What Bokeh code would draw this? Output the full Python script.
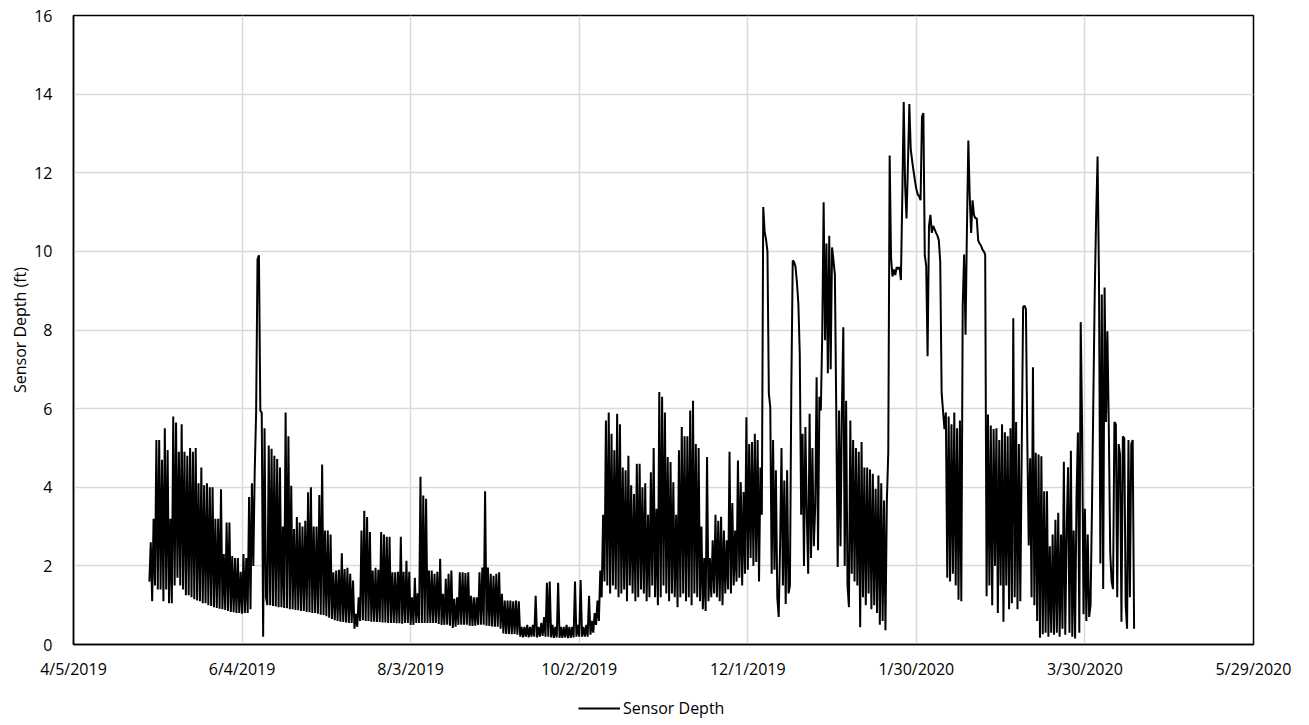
import pandas as pd
from bokeh.plotting import figure
from bokeh.layouts import column
from bokeh.models import Range1d, FixedTicker, Legend, LegendItem, ColumnDataSource
from bokeh.embed import file_html
from bokeh.resources import INLINE

# ---- axis data ----
x_tick_dates = ["2019-04-05", "2019-06-04", "2019-08-03", "2019-10-02",
                "2019-12-01", "2020-01-30", "2020-03-30", "2020-05-29"]
x_tick_labels = ["4/5/2019", "6/4/2019", "8/3/2019", "10/2/2019",
                 "12/1/2019", "1/30/2020", "3/30/2020", "5/29/2020"]
y_ticks = [0, 2, 4, 6, 8, 10, 12, 14, 16]
series_name = "Sensor Depth"

# ---- sensor depth (ft), readings every 12 hours, one list per month ----
may_2019 = [1.6, 2.6, 1.1, 3.2, 1.5, 5.2, 1.4, 5.2, 1.4, 4.7, 1.1, 5.5, 1.4, 4.95, 1.05, 3.2, 1.05, 5.8, 1.5, 5.65,
            1.7, 4.9, 1.5, 5.6, 1.4, 4.9, 1.25, 4.8, 1.25, 5.0, 1.2, 4.9, 1.15, 5.0, 1.12, 4.1, 1.1, 4.5, 1.05, 4.05,
            1.05, 4.1, 1.0, 4.0, 0.98, 4.0, 0.95, 3.2, 0.93, 3.2, 0.91, 3.95, 0.9, 2.3, 0.88, 3.1, 0.85, 3.1, 0.83, 2.25]
jun_2019 = [0.82, 2.2, 0.8, 2.2, 0.8, 1.85, 0.78, 2.3, 0.8, 2.2, 0.8, 3.75, 0.9, 4.1, 2.0, 4.4, 5.9, 9.8, 9.9, 5.95,
            5.9, 0.2, 5.5, 1.2, 1.0, 5.06, 1.0, 4.98, 0.98, 4.8, 0.97, 4.72, 0.95, 4.5, 0.95, 3.0, 0.93, 5.9, 0.92, 5.3,
            0.9, 4.04, 0.9, 2.94, 0.88, 3.24, 0.87, 3.1, 0.85, 3.0, 0.85, 3.15, 0.83, 3.87, 0.82, 4.0, 0.8, 3.0, 0.8, 3.0]
jul_2019 = [0.78, 3.8, 0.76, 4.58, 0.75, 2.9, 0.72, 2.9, 0.68, 2.8, 0.65, 1.84, 0.62, 1.88, 0.6, 1.9, 0.58, 2.32, 0.57, 1.92,
            0.56, 1.95, 0.55, 1.8, 0.55, 1.63, 0.4, 0.78, 0.45, 1.2, 0.6, 2.9, 0.62, 3.4, 0.6, 3.24, 0.6, 2.86, 0.58, 1.88,
            0.58, 1.95, 0.57, 1.9, 0.57, 2.86, 0.56, 2.8, 0.56, 2.74, 0.55, 2.74, 0.55, 1.84, 0.55, 1.84, 0.54, 1.85, 0.54, 2.74,
            0.53, 1.85]
aug_2019 = [0.55, 2.13, 0.55, 1.85, 0.5, 1.2, 0.5, 1.7, 0.55, 1.3, 0.55, 4.27, 0.55, 3.79, 0.55, 3.71, 0.55, 1.88, 0.55, 1.88,
            0.55, 1.8, 0.55, 1.85, 0.52, 2.18, 0.5, 1.29, 0.5, 1.67, 0.5, 1.8, 0.48, 1.88, 0.42, 1.16, 0.45, 1.2, 0.5, 1.84,
            0.5, 1.84, 0.5, 1.82, 0.5, 1.84, 0.48, 1.24, 0.47, 1.2, 0.48, 1.2, 0.5, 1.84, 0.5, 1.96, 0.5, 3.9, 0.48, 1.96,
            0.47, 1.8]
sep_2019 = [0.46, 1.75, 0.45, 1.8, 0.45, 1.84, 0.4, 1.29, 0.28, 1.12, 0.27, 1.12, 0.27, 1.12, 0.26, 1.1, 0.27, 1.12, 0.25, 1.1,
            0.2, 0.45, 0.18, 0.45, 0.2, 0.5, 0.18, 0.45, 0.2, 0.5, 0.2, 1.24, 0.18, 0.45, 0.2, 0.55, 0.22, 0.7, 0.2, 1.57,
            0.2, 1.6, 0.18, 0.5, 0.17, 0.45, 0.18, 1.57, 0.17, 0.45, 0.17, 0.45, 0.18, 0.5, 0.16, 0.45, 0.17, 0.45, 0.18, 1.6]
oct_2019 = [0.2, 0.5, 0.2, 1.64, 0.2, 0.45, 0.2, 0.5, 0.2, 1.24, 0.25, 0.6, 0.3, 0.8, 0.5, 1.12, 0.6, 1.88, 1.2, 3.3,
            1.6, 5.7, 1.5, 5.9, 1.3, 5.36, 1.5, 4.94, 1.4, 5.87, 1.2, 5.6, 1.3, 4.5, 1.4, 4.43, 1.1, 4.8, 1.5, 4.05,
            1.3, 3.83, 1.1, 4.6, 1.2, 4.6, 1.4, 4.0, 1.3, 4.1, 1.1, 3.3, 1.2, 4.38, 1.5, 5.0, 1.2, 3.45, 1.0, 6.42,
            1.2, 6.3]
nov_2019 = [1.5, 5.9, 1.3, 4.77, 1.1, 4.64, 1.3, 4.13, 1.2, 3.3, 0.95, 4.94, 1.2, 5.53, 1.3, 5.3, 1.1, 5.3, 1.2, 5.95,
            1.0, 6.2, 1.3, 5.1, 1.2, 5.0, 1.1, 3.0, 0.9, 2.2, 0.85, 4.77, 1.1, 2.2, 1.2, 2.65, 1.3, 3.3, 1.2, 3.15,
            1.1, 3.25, 1.0, 2.9, 1.3, 2.65, 1.4, 4.9, 1.3, 3.6, 1.5, 2.9, 1.6, 4.68, 1.7, 4.13, 1.5, 3.88, 1.8, 5.78]
dec_2019 = [1.9, 5.1, 2.2, 5.15, 2.0, 5.36, 2.1, 5.2, 1.6, 4.5, 3.3, 11.13, 10.5, 10.3, 10.0, 6.38, 6.04, 1.8, 5.2, 1.9,
            4.43, 1.2, 0.7, 2.5, 5.0, 1.5, 4.17, 1.03, 4.43, 1.3, 1.5, 6.55, 9.77, 9.73, 9.6, 9.2, 8.67, 7.4, 3.3, 5.36,
            2.0, 5.53, 3.3, 1.8, 5.87, 2.2, 5.0, 2.5, 3.5, 6.8, 2.4, 6.3, 5.95, 7.9, 11.25, 7.74, 10.2, 6.9, 10.4, 7.0,
            10.1, 9.77]
jan_2020 = [9.4, 5.87, 1.97, 5.95, 2.5, 6.0, 8.07, 2.0, 6.2, 1.5, 0.95, 5.7, 1.8, 5.2, 1.6, 5.0, 1.5, 4.9, 0.44, 5.15,
            1.2, 4.5, 1.0, 4.5, 1.3, 4.45, 0.9, 4.34, 1.0, 3.96, 0.8, 4.3, 0.5, 4.1, 0.6, 3.66, 0.36, 3.66, 4.88, 12.44,
            9.82, 9.36, 9.54, 9.4, 9.6, 9.55, 9.6, 9.27, 11.4, 13.8, 11.67, 10.84, 12.2, 13.75, 12.6, 12.3, 12.04, 11.8,
            11.58, 11.45, 11.4, 11.3]
feb_2020 = [13.42, 13.52, 9.9, 9.64, 7.33, 10.65, 10.93, 10.47, 10.65, 10.56, 10.47, 10.4, 10.28, 9.73, 6.4, 5.94,
            5.48, 5.9, 1.7, 5.8, 1.6, 5.6, 1.8, 5.9, 1.5, 5.5, 1.14, 5.7, 1.1, 8.62, 9.92, 7.88, 10.56, 12.82,
            11.4, 10.47, 11.3, 10.93, 10.84, 10.84, 10.28, 10.2, 10.15, 10.05, 10.0, 9.92, 1.23, 5.85, 1.5, 5.57,
            1.0, 5.48, 2.0, 5.5, 0.8, 5.2, 1.5, 5.6]
mar_2020 = [0.58, 5.4, 1.5, 5.3, 0.9, 5.5, 1.05, 8.3, 1.2, 5.66, 0.9, 5.1, 1.1, 4.93, 8.58, 8.62, 8.53, 5.1, 2.52, 4.74,
            1.2, 7.05, 1.0, 4.88, 0.6, 4.83, 0.17, 4.79, 0.26, 3.9, 0.3, 3.9, 0.2, 2.5, 0.3, 2.8, 0.25, 3.17, 0.3, 3.35,
            0.2, 2.8, 0.4, 4.65, 0.25, 2.9, 4.51, 0.3, 4.93, 0.2, 2.9, 0.15, 3.73, 5.39, 0.3, 8.2, 5.48, 0.77, 3.45, 0.6,
            2.8, 0.7]
apr_2020 = [1.0, 3.45, 6.27, 9.0, 10.9, 12.41, 9.31, 2.06, 8.9, 1.41, 9.08, 5.66, 7.97, 5.48, 2.34, 1.6,
            1.41, 5.66, 5.6, 1.2, 5.1, 4.83, 0.58, 5.29, 5.25, 1.0, 0.4, 5.2, 1.2, 5.1, 5.2, 0.4]

month_starts = ["2019-05-02", "2019-06-01", "2019-07-01", "2019-08-01", "2019-09-01", "2019-10-01",
                "2019-11-01", "2019-12-01", "2020-01-01", "2020-02-01", "2020-03-01", "2020-04-01"]
month_values = [may_2019, jun_2019, jul_2019, aug_2019, sep_2019, oct_2019,
                nov_2019, dec_2019, jan_2020, feb_2020, mar_2020, apr_2020]

times, depths = [], []
for start, vals in zip(month_starts, month_values):
    times.extend(pd.date_range(start, periods=len(vals), freq="12h"))
    depths.extend(vals)

src = ColumnDataSource(dict(t=times, depth=depths))


def ms(d):
    return pd.Timestamp(d).value / 1e6


FONT = "Open Sans"
FS = "16px"
LINE_KW = dict(line_color="black", line_width=2)

# ---------------- main chart ----------------
p = figure(frame_width=1180, frame_height=629, x_axis_type="datetime",
           output_backend="svg", toolbar_location=None,
           x_range=Range1d(ms(x_tick_dates[0]), ms(x_tick_dates[-1])),
           y_range=Range1d(y_ticks[0], y_ticks[-1]),
           min_border_left=73, min_border_right=56,
           min_border_top=15, min_border_bottom=51)

p.line("t", "depth", source=src, **LINE_KW)

tick_ms = [ms(d) for d in x_tick_dates]
p.xaxis.ticker = FixedTicker(ticks=tick_ms)
p.xaxis.major_label_overrides = {t: lab for t, lab in zip(tick_ms, x_tick_labels)}
p.yaxis.ticker = FixedTicker(ticks=y_ticks)

for ax in (p.xaxis[0], p.yaxis[0]):
    ax.major_tick_line_color = None
    ax.minor_tick_line_color = None
    ax.axis_line_color = "black"
    ax.axis_line_width = 1.5
    ax.major_label_text_font = FONT
    ax.major_label_text_font_size = FS
    ax.major_label_text_color = "black"

p.xaxis.major_label_standoff = 7
p.yaxis.major_label_standoff = 15
p.yaxis.axis_label = "Sensor Depth (ft)"
p.yaxis.axis_label_text_font = FONT
p.yaxis.axis_label_text_font_size = FS
p.yaxis.axis_label_text_font_style = "normal"
p.yaxis.axis_label_text_color = "black"
p.yaxis.axis_label_standoff = 0

p.grid.grid_line_color = "#d9d9d9"
p.grid.grid_line_width = 1.5
p.outline_line_color = "black"
p.outline_line_width = 1.5
p.background_fill_color = "white"
p.border_fill_color = "white"

# ---------------- legend strip below the chart ----------------
leg = figure(width=1309, height=30, output_backend="svg", toolbar_location=None,
             x_axis_location=None, y_axis_location=None,
             x_range=Range1d(0, 1), y_range=Range1d(0, 1),
             min_border=0)
leg.grid.visible = False
leg.outline_line_color = None
leg.background_fill_color = "white"
leg.border_fill_color = "white"
# same series, drawn outside this strip's visible range: only its legend key shows
key = leg.line("t", "depth", source=src, **LINE_KW)

legend = Legend(items=[LegendItem(label=series_name, renderers=[key])],
                location=(505, 6), orientation="horizontal",
                padding=0, margin=0, spacing=0,
                border_line_color=None, background_fill_alpha=0,
                glyph_width=42, glyph_height=16, label_standoff=3,
                label_text_font=FONT, label_text_font_size=FS,
                label_text_color="black")
leg.add_layout(legend)

layout = column(p, leg, spacing=0)
open("out.html", "w").write(file_html(layout, INLINE))
